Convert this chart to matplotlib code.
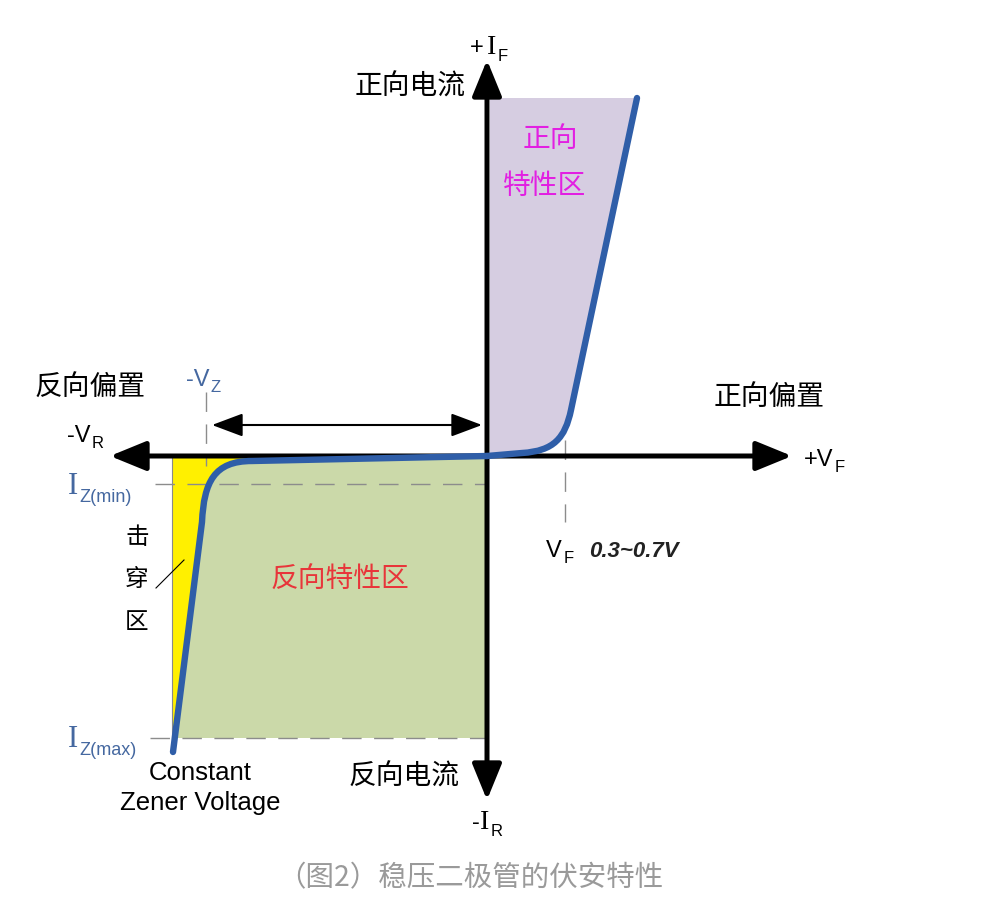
import matplotlib
matplotlib.use("Agg")
import matplotlib.pyplot as plt
from matplotlib.path import Path
from matplotlib.patches import PathPatch, Rectangle

plt.rcParams['font.family'] = ['Noto Sans CJK SC', 'DejaVu Sans']

# diagram geometry, in picture pixels (y grows downwards)
origin = (487, 456)
h_axis = (110, 792)
v_axis = (60, 800)
top_level = 98
iz_min = 484
iz_max = 738
vz_x = 206
vf_x = 565
left_edge = 172

# forward branch: start, flat run, bezier knee, straight rise
fwd_pts = [(487, 456), (522, 453), (554, 451), (565, 438), (571, 410), (637, 98)]
fwd_codes = [Path.MOVETO, Path.LINETO, Path.CURVE4, Path.CURVE4, Path.CURVE4, Path.LINETO]
# reverse branch: start, slight slope, bezier knee, breakdown line
rev_pts = [(487, 456), (252, 461), (214, 461), (204, 482), (202, 522), (173, 752)]
rev_codes = fwd_codes

curve_col = '#2f5ea8'
purple = '#d6cde1'
green = '#cbd9a9'
yellow = '#fff000'

fig = plt.figure(figsize=(10.05, 9.14), dpi=100)
ax = fig.add_axes([0, 0, 1, 1])
ax.set_xlim(0, 1005)
ax.set_ylim(914, 0)
ax.axis('off')

# purple forward region (forward branch walked backwards)
pv = [(490, top_level), (637, top_level), (571, 410), (565, 438), (554, 451), (522, 453), (487, 456), (490, 456)]
pc = [Path.MOVETO, Path.LINETO, Path.LINETO, Path.CURVE4, Path.CURVE4, Path.CURVE4, Path.LINETO, Path.LINETO]
ax.add_patch(PathPatch(Path(pv, pc), fc=purple, ec='none', zorder=1))

# green reverse region
ax.add_patch(Rectangle((left_edge, 458), origin[0] - left_edge, iz_max - 458, fc=green, ec='none', zorder=1))
# yellow breakdown region
yv = [(left_edge, 458), (252, 458), (214, 461), (204, 482), (202, 522), (176, iz_max), (left_edge, iz_max), (left_edge, 458)]
yc = [Path.MOVETO, Path.LINETO, Path.CURVE4, Path.CURVE4, Path.CURVE4, Path.LINETO, Path.LINETO, Path.CLOSEPOLY]
ax.add_patch(PathPatch(Path(yv, yc), fc=yellow, ec='none', zorder=2))
ax.plot([left_edge, left_edge], [458, iz_max], color='#8a8a8a', lw=0.8, zorder=2)

# dashed guides
dash = dict(color='#8c8c8c', lw=1.0, ls=(0, (14, 9)), zorder=3)
ax.plot([155, origin[0]], [iz_min, iz_min], **dash)
ax.plot([150, origin[0]], [iz_max, iz_max], **dash)
ax.plot([vz_x, vz_x], [392, 466], **dash)
ax.plot([vf_x, vf_x], [440, 522], **dash)

# axes with arrows
arr = dict(arrowstyle='-|>,head_length=1.1,head_width=0.45', lw=3.6, color='black',
           mutation_scale=20, shrinkA=0, shrinkB=0)
ax.annotate('', xy=(h_axis[0], origin[1]), xytext=(origin[0], origin[1]), arrowprops=arr, zorder=4)
ax.annotate('', xy=(h_axis[1], origin[1]), xytext=(origin[0], origin[1]), arrowprops=arr, zorder=4)
ax.annotate('', xy=(origin[0], v_axis[0]), xytext=(origin[0], origin[1]), arrowprops=arr, zorder=4)
ax.annotate('', xy=(origin[0], v_axis[1]), xytext=(origin[0], origin[1]), arrowprops=arr, zorder=4)

# zener voltage double arrow
ax.annotate('', xy=(212, 425), xytext=(482, 425),
            arrowprops=dict(arrowstyle='<|-|>,head_length=1.2,head_width=0.45', lw=1.5,
                            color='black', mutation_scale=16, shrinkA=0, shrinkB=0), zorder=4)

# characteristic curve
for pts, codes in [(fwd_pts, fwd_codes), (rev_pts, rev_codes)]:
    ax.add_patch(PathPatch(Path(pts, codes), fc='none', ec=curve_col, lw=4.6,
                           capstyle='round', joinstyle='round', zorder=5))

# pointer line for breakdown label
ax.plot([156, 184], [588, 560], color='black', lw=0.8, zorder=6)

sans = ['Liberation Sans', 'DejaVu Sans']
serif = ['Liberation Serif', 'DejaVu Serif']
label_blue = '#4568a0'

# labels with subscripts
def sub_label(x, y, main, sub, color, fs=17, family=None, sfs=12):
    kw = {} if family is None else dict(family=family)
    t = ax.text(x, y, main, color=color, fontsize=fs, ha='left', va='baseline', zorder=7, **kw)
    ax.annotate(sub, xy=(1.0, 0.0), xycoords=t, xytext=(1, -1), textcoords='offset points',
                color=color, fontsize=sfs, ha='left', va='baseline', family=sans, zorder=7)
    return t

ax.text(470, 54, '+', fontsize=17, family=sans, va='baseline', ha='left')
sub_label(487, 54, 'I', 'F', 'black', fs=20, family=serif)
sub_label(67, 442, '-V', 'R', 'black', fs=17, family=sans)
sub_label(186, 386, '-V', 'Z', label_blue, fs=17, family=sans)
sub_label(804, 466, '+V', 'F', 'black', fs=17, family=sans)
sub_label(546, 557, 'V', 'F', 'black', fs=17, family=sans)
ax.text(589, 557, '0.3~0.7V', fontsize=16, family=sans, style='italic', weight='bold',
        color='#222222', va='baseline', ha='left')
sub_label(68, 494, 'I', 'Z(min)', label_blue, fs=22, family=serif, sfs=13)
sub_label(68, 747, 'I', 'Z(max)', label_blue, fs=22, family=serif, sfs=13)
ax.text(472, 829, '-', fontsize=17, family=sans, va='baseline', ha='left')
sub_label(480, 829, 'I', 'R', 'black', fs=20, family=serif)

ax.text(410, 87, '正向电流', fontsize=20, ha='center', va='center')
ax.text(90, 388, '反向偏置', fontsize=20, ha='center', va='center')
ax.text(769, 397, '正向偏置', fontsize=20, ha='center', va='center')
ax.text(404, 777, '反向电流', fontsize=20, ha='center', va='center')
ax.text(550, 139, '正向', fontsize=20, color='#e21fe2', ha='center', va='center')
ax.text(545, 186, '特性区', fontsize=20, color='#e21fe2', ha='center', va='center')
ax.text(340, 580, '反向特性区', fontsize=20, color='#e8353a', ha='center', va='center')
for yy, ch in zip([538, 580, 622], ['击', '穿', '区']):
    ax.text(137, yy, ch, fontsize=17, ha='center', va='center')
ax.text(200, 773, 'Constant', fontsize=18.5, family=sans, ha='center', va='center')
ax.text(200, 803, 'Zener Voltage', fontsize=18.5, family=sans, ha='center', va='center')
ax.text(470, 878, '（图2）稳压二极管的伏安特性', fontsize=20.5, color='#9a9a9a', ha='center', va='center')

fig.savefig('out.png', dpi=100, facecolor='white')
